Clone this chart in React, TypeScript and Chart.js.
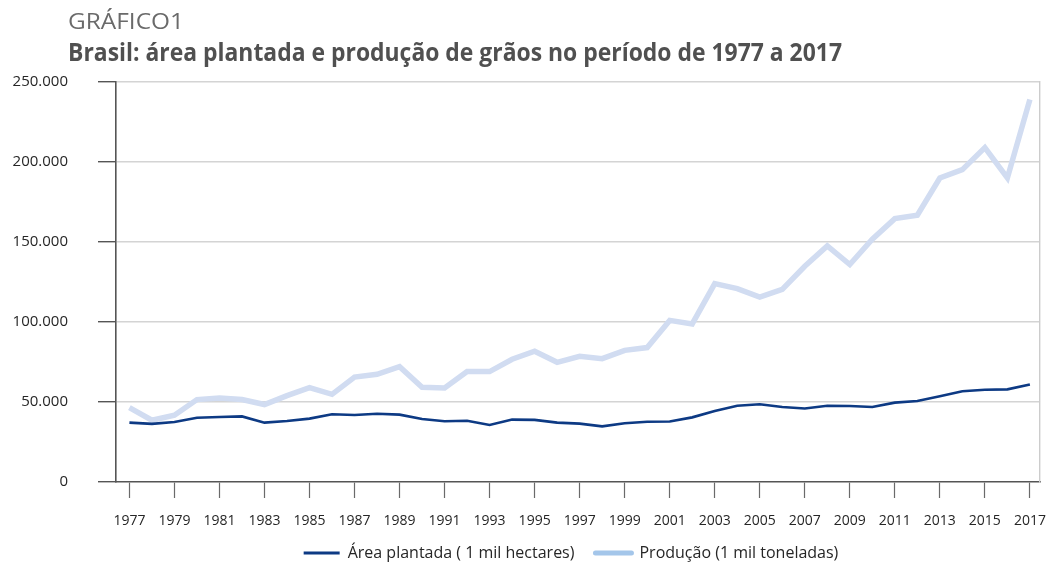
import React, { useEffect, useLayoutEffect, useRef } from 'react';
import { Chart, registerables } from 'chart.js';

Chart.register(...registerables);

// ---- data ----
const years = [
  1977, 1978, 1979, 1980, 1981, 1982, 1983, 1984, 1985, 1986, 1987, 1988, 1989, 1990,
  1991, 1992, 1993, 1994, 1995, 1996, 1997, 1998, 1999, 2000, 2001, 2002, 2003, 2004,
  2005, 2006, 2007, 2008, 2009, 2010, 2011, 2012, 2013, 2014, 2015, 2016, 2017,
];

const areaPlantada = [
  37100, 36300, 37500, 40200, 40600, 41000, 37100, 38100, 39600, 42300, 41900, 42700, 42100, 39400,
  38000, 38300, 35600, 39000, 38800, 37100, 36500, 34800, 36700, 37700, 37800, 40400, 44400, 47700,
  48600, 46900, 45900, 47700, 47500, 46900, 49600, 50600, 53600, 56700, 57700, 57900, 61000,
];

const producao = [
  46500, 38600, 41700, 51500, 52500, 51500, 48400, 54000, 59000, 54800, 65600, 67300, 72100, 59200,
  58800, 69000, 69000, 76700, 81700, 74800, 78600, 77100, 82300, 84000, 101000, 98800, 124000, 120900,
  115600, 120400, 134800, 147500, 135900, 151700, 164600, 166700, 190000, 195200, 209000, 190000, 239000,
];

const xTickYears = [
  1977, 1979, 1981, 1983, 1985, 1987, 1989, 1991, 1993, 1995, 1997, 1999, 2001, 2003,
  2005, 2007, 2009, 2011, 2013, 2015, 2017,
];

const yTickValues = [0, 50000, 100000, 150000, 200000, 250000];

const seriesLabels = ['Área plantada ( 1 mil hectares)', 'Produção (1 mil toneladas)'];
const kicker = 'GRÁFICO1';
const title = 'Brasil: área plantada e produção de grãos no período de 1977 a 2017';

const FONT = "'Open Sans', 'DejaVu Sans', sans-serif";
const LEGEND_FONT_SIZE = 16;

function fmt(v: number): string {
  return String(v).replace(/\B(?=(\d{3})+(?!\d))/g, '.');
}

function FitText(props: { text: string; left: number; top: number; width: number; size: number; weight: number; color: string }) {
  const ref = useRef<HTMLSpanElement | null>(null);
  useLayoutEffect(() => {
    const el = ref.current;
    if (!el) return;
    el.style.transform = 'none';
    const w = el.getBoundingClientRect().width;
    if (w > 0) el.style.transform = `scaleX(${props.width / w})`;
  }, [props.text, props.width]);
  return (
    <span
      ref={ref}
      style={{
        position: 'absolute',
        left: props.left,
        top: props.top,
        fontFamily: FONT,
        fontSize: props.size,
        fontWeight: props.weight,
        color: props.color,
        whiteSpace: 'nowrap',
        lineHeight: 1,
        transformOrigin: '0 0',
      }}
    >
      {props.text}
    </span>
  );
}

// moves the legend block so its content is centred at x=571 and its text at y=553
const legendPlacer = {
  id: 'legendPlacer',
  afterLayout(chart: any) {
    const lg = chart.legend;
    if (!lg) return;
    const pad = lg.options.labels.padding;
    const dx = 571 - (lg.left + lg.right) / 2;
    lg.left += dx;
    lg.right += dx;
    lg.top = 553 - pad - LEGEND_FONT_SIZE / 2;
    lg.bottom = 565;
  },
};

export default function App() {
  const canvasRef = useRef<HTMLCanvasElement | null>(null);

  useEffect(() => {
    const canvas = canvasRef.current;
    if (!canvas) return;
    const chart = new Chart(canvas, {
      type: 'line',
      data: {
        datasets: [
          {
            label: seriesLabels[0],
            data: years.map((y, i) => ({ x: y, y: areaPlantada[i] })),
            borderColor: '#0d3a84',
            backgroundColor: '#0d3a84',
            borderWidth: 2.6,
            pointRadius: 0,
            tension: 0,
          },
          {
            label: seriesLabels[1],
            data: years.map((y, i) => ({ x: y, y: producao[i] })),
            borderColor: '#d1dcf1',
            backgroundColor: '#d1dcf1',
            borderWidth: 5.5,
            pointRadius: 0,
            tension: 0,
          },
        ],
      },
      plugins: [legendPlacer],
      options: {
        responsive: false,
        animation: false,
        devicePixelRatio: 1,
        layout: { padding: { left: 12, right: 9, top: 82, bottom: 0 } },
        plugins: {
          tooltip: { enabled: false },
          legend: {
            position: 'bottom',
            align: 'center',
            maxHeight: 20,
            labels: {
              usePointStyle: true,
              pointStyle: 'line',
              pointStyleWidth: 36,
              padding: 21,
              color: '#262626',
              font: { family: FONT, size: LEGEND_FONT_SIZE },
              generateLabels: (ch: any) => {
                const items = Chart.defaults.plugins.legend.labels.generateLabels(ch);
                return items.map((it: any, i: number) => ({
                  ...it,
                  strokeStyle: i === 0 ? '#0d3a84' : '#a4c6ea',
                  fillStyle: i === 0 ? '#0d3a84' : '#a4c6ea',
                  lineWidth: i === 0 ? 3 : 5,
                  lineCap: i === 0 ? 'butt' : 'round',
                  pointStyle: 'line',
                }));
              },
            },
          },
        },
        scales: {
          x: {
            type: 'linear',
            min: 1976.404,
            max: 2017.45,
            afterBuildTicks: (s: any) => {
              s.ticks = xTickYears.map((v) => ({ value: v }));
            },
            afterFit: (s: any) => {
              s.height = 63;
            },
            ticks: {
              autoSkip: false,
              maxRotation: 0,
              minRotation: 0,
              padding: 15,
              color: '#262626',
              font: { family: FONT, size: 14 },
              callback: (v: any) => String(v),
            },
            grid: {
              drawOnChartArea: false,
              tickLength: 16,
              tickColor: '#6a6a6a',
              tickWidth: 1.2,
            },
            border: { display: true, color: '#555555', width: 1.6 },
          },
          y: {
            type: 'linear',
            min: 0,
            max: 250000,
            afterBuildTicks: (s: any) => {
              s.ticks = yTickValues.map((v) => ({ value: v }));
            },
            afterFit: (s: any) => {
              s.width = 104;
            },
            ticks: {
              padding: 30,
              color: '#262626',
              font: { family: FONT, size: 15 },
              callback: (v: any) => fmt(Number(v)),
            },
            grid: {
              color: (c: any) => (c.tick && c.tick.value === 0 ? 'rgba(0,0,0,0)' : '#d4d4d4'),
              lineWidth: 1.4,
              tickLength: 18,
              tickColor: '#555555',
              tickWidth: 1.4,
            },
            border: { display: true, color: '#555555', width: 1.6 },
          },
          yr: {
            type: 'linear',
            position: 'right',
            min: 0,
            max: 250000,
            afterFit: (s: any) => {
              s.width = 0;
            },
            ticks: { display: false },
            grid: { drawOnChartArea: false, drawTicks: false },
            border: { display: true, color: '#cccccc', width: 1.4 },
          },
        },
      },
    } as any);
    return () => chart.destroy();
  }, []);

  return (
    <div style={{ position: 'absolute', left: 0, top: 0, width: 1061, height: 565, background: '#ffffff' }}>
      <canvas ref={canvasRef} width={1061} height={565} style={{ position: 'absolute', left: 0, top: 0, width: 1061, height: 565 }} />
      <FitText text={kicker} left={68} top={11} width={116} size={21} weight={400} color="#6a6a6a" />
      <FitText text={title} left={68} top={39} width={774} size={25} weight={700} color="#505050" />
    </div>
  );
}
